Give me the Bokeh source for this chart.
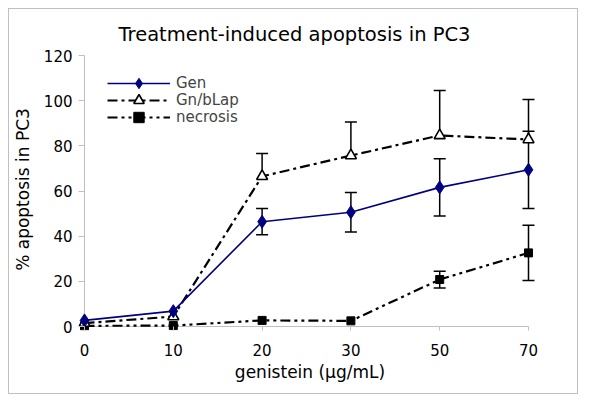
from bokeh.plotting import figure
from bokeh.models import (ColumnDataSource, Range1d, FixedTicker, Whisker, TeeHead,
                          Legend, LegendItem)
from bokeh.embed import file_html
from bokeh.resources import INLINE

# ---- data ----
doses = ["0", "10", "20", "30", "50", "70"]
gen = [2.7, 6.8, 46.4, 50.6, 61.6, 69.4]
gen_err = [0, 0, 5.8, 8.7, 12.7, 17.1]
gnblap = [1.5, 4.4, 66.5, 75.7, 84.6, 82.8]
gnblap_err = [0, 0, 10.1, 14.8, 19.9, 17.7]
necrosis = [0.3, 0.4, 2.7, 2.5, 20.8, 32.6]
necrosis_err = [0, 0, 0, 0, 3.7, 12.2]
y_ticks = [0, 20, 40, 60, 80, 100, 120]
series_names = ["Gen", "Gn/bLap", "necrosis"]

title = "Treatment-induced apoptosis in PC3"
x_label = "genistein (\u03bcg/mL)"
y_label = "% apoptosis in PC3"

FONT = "DejaVu Sans"
AXIS_GREY = "#c0c0c0"
xs = list(range(len(doses)))

p = figure(width=570, height=386, output_backend="svg", toolbar_location=None,
           x_range=Range1d(-0.0676, len(doses) - 1 + 0.1464),
           y_range=Range1d(-1.771, 123.1),
           min_border_left=69, min_border_right=38,
           min_border_top=39, min_border_bottom=65)
p.styles = {"margin-left": "8px", "margin-top": "8px",
            "border": "1px solid " + AXIS_GREY}
p.outline_line_color = None
p.background_fill_color = "white"
p.border_fill_color = "white"
p.xgrid.visible = False
p.ygrid.visible = False

p.title.text = title
p.title.text_font = FONT
p.title.text_font_size = "19.5px"
p.title.text_font_style = "normal"
p.title.text_color = "black"
p.title.align = "left"
p.title.offset = 40
p.title.standoff = 6

# axes (lines drawn at data zero below; panel axes carry ticks + labels)
xa = p.xaxis[0]
xa.ticker = FixedTicker(ticks=xs)
xa.major_label_overrides = {i: d for i, d in zip(xs, doses)}
xa.axis_label = x_label
ya = p.yaxis[0]
ya.ticker = FixedTicker(ticks=y_ticks)
ya.axis_label = y_label
for ax in (xa, ya):
    ax.axis_line_color = None
    ax.major_tick_line_color = AXIS_GREY
    ax.minor_tick_line_color = None
    ax.major_tick_out = 0
    ax.major_label_text_font = FONT
    ax.major_label_text_font_size = "15px"
    ax.major_label_text_color = "black"
    ax.axis_label_text_font = FONT
    ax.axis_label_text_font_size = "17px"
    ax.axis_label_text_font_style = "normal"
    ax.axis_label_text_color = "black"
xa.major_tick_in = 4
xa.major_label_standoff = 13
xa.axis_label_standoff = 3
ya.major_tick_in = 6
ya.major_label_standoff = 6
ya.axis_label_standoff = 8

# axis lines at zero
p.segment(x0=[xs[0], xs[0]], y0=[y_ticks[0], y_ticks[0]],
          x1=[xs[-1], xs[0]], y1=[y_ticks[0], y_ticks[-1]],
          line_color=AXIS_GREY, line_width=1)

# error bars
def whisker(vals, errs, both):
    idx = [i for i, e in enumerate(errs) if e > 0]
    src = ColumnDataSource(dict(
        x=[xs[i] for i in idx],
        upper=[vals[i] + errs[i] for i in idx],
        lower=[(vals[i] - errs[i]) if both else vals[i] for i in idx]))
    w = Whisker(base="x", upper="upper", lower="lower", source=src,
                dimension="height", line_color="black", line_width=1.5,
                upper_head=TeeHead(size=12, line_color="black", line_width=1.5),
                lower_head=TeeHead(size=12, line_color="black", line_width=1.5) if both else None,
                level="underlay")
    p.add_layout(w)

whisker(gen, gen_err, True)
whisker(gnblap, gnblap_err, False)
whisker(necrosis, necrosis_err, True)

src = ColumnDataSource(dict(x=xs, gen=gen, gnblap=gnblap, necrosis=necrosis))

l3 = p.line("x", "necrosis", source=src, line_color="black", line_width=2.2,
            line_dash="10 4 3 4 3 4")
m3 = p.scatter("x", "necrosis", source=src, marker="square", size=8,
               fill_color="black", line_color="black")
l2 = p.line("x", "gnblap", source=src, line_color="black", line_width=2.2,
            line_dash="10 4 3 4")
m2 = p.scatter("x", "gnblap", source=src, marker="triangle", size=11,
               fill_color="white", line_color="black", line_width=1.6)
l1 = p.line("x", "gen", source=src, line_color="#000080", line_width=1.6)
m1 = p.scatter("x", "gen", source=src, marker="diamond", size=13,
               fill_color="#000080", line_color="#000080")

# one single-row legend per series, stacked with a 17px pitch
renderer_pairs = [[l1, m1], [l2, m2], [l3, m3]]
for k, (name, rends) in enumerate(zip(series_names, renderer_pairs)):
    lg = Legend(items=[LegendItem(label=name, renderers=rends)],
                location=(29, 234 - 17 * k), orientation="vertical",
                border_line_color=None, background_fill_alpha=0,
                padding=0, margin=0, spacing=0,
                glyph_width=63, glyph_height=26, label_height=26,
                label_standoff=6, label_text_line_height=1.1,
                label_text_font=FONT, label_text_font_size="15px")
    p.add_layout(lg, "center")

open("out.html", "w").write(file_html(p, INLINE))
